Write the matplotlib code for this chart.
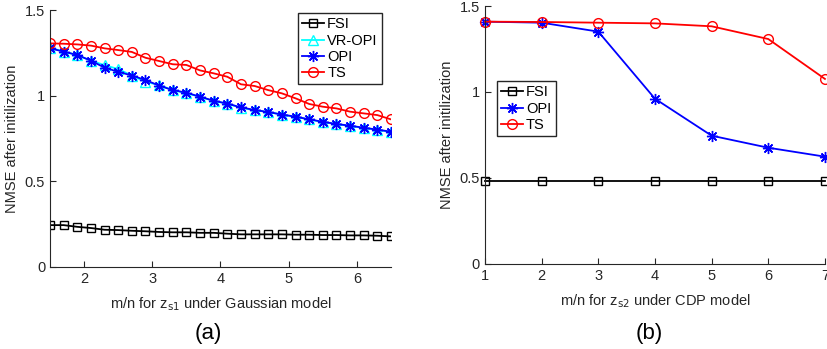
import matplotlib

matplotlib.use("Agg")
import matplotlib.pyplot as plt

plt.rcParams["font.family"] = ["Liberation Sans", "DejaVu Sans"]

# panel (a): Gaussian model
ratio_a = [1.5, 1.7, 1.9, 2.1, 2.3, 2.5, 2.7, 2.9, 3.1, 3.3, 3.5, 3.7, 3.9,
           4.1, 4.3, 4.5, 4.7, 4.9, 5.1, 5.3, 5.5, 5.7, 5.9, 6.1, 6.3, 6.5]
fsi_a = [0.243, 0.243, 0.233, 0.226, 0.216, 0.214, 0.210, 0.207, 0.203, 0.201, 0.201, 0.198, 0.198,
         0.193, 0.189, 0.189, 0.189, 0.189, 0.187, 0.187, 0.185, 0.185, 0.183, 0.183, 0.181, 0.177]
vropi_a = [1.280, 1.257, 1.237, 1.204, 1.178, 1.155, 1.117, 1.080, 1.062, 1.032, 1.014, 0.993, 0.968,
           0.953, 0.929, 0.914, 0.904, 0.889, 0.875, 0.861, 0.845, 0.834, 0.822, 0.812, 0.800, 0.787]
opi_a = [1.276, 1.257, 1.237, 1.204, 1.163, 1.139, 1.117, 1.091, 1.058, 1.032, 1.017, 0.993, 0.970,
         0.953, 0.931, 0.916, 0.904, 0.889, 0.877, 0.861, 0.847, 0.834, 0.824, 0.812, 0.801, 0.789]
ts_a = [1.305, 1.303, 1.299, 1.292, 1.276, 1.266, 1.255, 1.221, 1.202, 1.183, 1.179, 1.147, 1.130,
        1.110, 1.066, 1.056, 1.032, 1.013, 0.984, 0.951, 0.935, 0.925, 0.906, 0.896, 0.886, 0.861]

# panel (b): CDP model
ratio_b = [1, 2, 3, 4, 5, 6, 7]
fsi_b = [0.483, 0.483, 0.483, 0.483, 0.483, 0.483, 0.483]
opi_b = [1.409, 1.403, 1.351, 0.961, 0.746, 0.676, 0.624]
ts_b = [1.409, 1.407, 1.403, 1.399, 1.382, 1.308, 1.076]

TEXT = "#262626"
AST = (8, 2, 0)

fig = plt.figure(figsize=(8.28, 3.49), dpi=100)
ax_a = fig.add_axes([0.0604, 0.2358, 0.4118, 0.7355])
ax_b = fig.add_axes([0.5857, 0.2436, 0.4106, 0.7392])

ax_a.plot(ratio_a, fsi_a, color="black", marker="s", mfc="none", ms=6, lw=1.3, label="FSI")
ax_a.plot(ratio_a, vropi_a, color="cyan", marker="^", mfc="none", ms=7, lw=1.3, label="VR-OPI")
ax_a.plot(ratio_a, opi_a, color="blue", marker=AST, ms=8, lw=1.3, label="OPI")
ax_a.plot(ratio_a, ts_a, color="red", marker="o", mfc="none", ms=7, lw=1.3, label="TS")
ax_a.set_xlim(1.5, 6.5)
ax_a.set_xticks([2, 3, 4, 5, 6])
ax_a.set_xlabel("m/n for z$_{\\mathrm{s1}}$ under Gaussian model", color=TEXT, fontsize=10.5)
leg_style = dict(fontsize=10.5, fancybox=False, edgecolor="#262626", handlelength=1.5,
                 handletextpad=0.2, borderpad=0.3, labelspacing=0.15, framealpha=1,
                 borderaxespad=0)
ax_a.legend(loc="upper right", bbox_to_anchor=(0.974, 0.988), **leg_style)

ax_b.plot(ratio_b, fsi_b, color="black", marker="s", mfc="none", ms=6, lw=1.3, label="FSI", clip_on=False)
ax_b.plot(ratio_b, opi_b, color="blue", marker=AST, ms=8, lw=1.3, label="OPI", clip_on=False)
ax_b.plot(ratio_b, ts_b, color="red", marker="o", mfc="none", ms=7, lw=1.3, label="TS", clip_on=False)
ax_b.set_xlim(1, 7)
ax_b.set_xticks(ratio_b)
ax_b.set_xlabel("m/n for z$_{\\mathrm{s2}}$ under CDP model", color=TEXT, fontsize=10.5)
ax_b.legend(loc="upper left", bbox_to_anchor=(0.035, 0.709), **leg_style)

for ax in (ax_a, ax_b):
    ax.set_ylim(0, 1.5)
    ax.set_yticks([0, 0.5, 1, 1.5])
    ax.set_yticklabels(["0", "0.5", "1", "1.5"])
    ax.set_ylabel("NMSE after initilization", color=TEXT, fontsize=10.5, labelpad=4)
    ax.spines["top"].set_visible(False)
    ax.spines["right"].set_visible(False)
    for s in ("left", "bottom"):
        ax.spines[s].set_color(TEXT)
    ax.tick_params(direction="in", labelsize=10.5, colors=TEXT, length=4)
    ax.xaxis.set_label_coords(0.5, -0.11)

fig.text(0.252, 0.045, "(a)", ha="center", va="center", fontsize=16, color="black")
fig.text(0.784, 0.045, "(b)", ha="center", va="center", fontsize=16, color="black")

fig.savefig("out.png", dpi=100)
plt.close(fig)
